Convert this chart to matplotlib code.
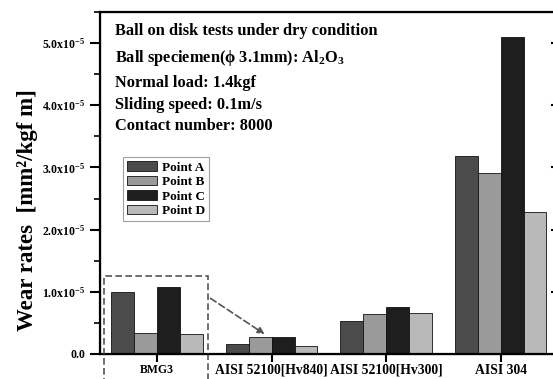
import numpy as np
import matplotlib
matplotlib.use("Agg")
import matplotlib.pyplot as plt
from matplotlib.ticker import MultipleLocator, FuncFormatter
from matplotlib.patches import Rectangle

plt.rcParams['font.family'] = ['Liberation Serif', 'DejaVu Serif']
plt.rcParams['font.weight'] = 'bold'
plt.rcParams['mathtext.fontset'] = 'custom'
plt.rcParams['mathtext.rm'] = 'Liberation Serif:bold'
plt.rcParams['mathtext.it'] = 'Liberation Serif:bold'
plt.rcParams['mathtext.bf'] = 'Liberation Serif:bold'

# data (wear rate, mm^2/kgf m)
materials = ["BMG3", "AISI 52100[Hv840]", "AISI 52100[Hv300]", "AISI 304"]
point_names = ["Point A", "Point B", "Point C", "Point D"]
point_a = [1.00e-5, 0.16e-5, 0.53e-5, 3.19e-5]
point_b = [0.33e-5, 0.27e-5, 0.64e-5, 2.91e-5]
point_c = [1.08e-5, 0.27e-5, 0.75e-5, 5.10e-5]
point_d = [0.32e-5, 0.13e-5, 0.665e-5, 2.28e-5]
colors = ["#4b4b4b", "#9a9a9a", "#1e1e1e", "#b9b9b9"]

fig = plt.figure(figsize=(5.53, 3.79), dpi=100)
ax = fig.add_axes([0.1808, 0.066, 0.828, 0.9024])

x = np.arange(len(materials))
w = 0.2
series = [point_a, point_b, point_c, point_d]
for i, (vals, name, col) in enumerate(zip(series, point_names, colors)):
    ax.bar(x + (i - 1.5) * w, vals, w, color=col, edgecolor="#111111",
           linewidth=0.6, label=name)

ax.set_xlim(-0.5, 3.5)
ax.set_ylim(0, 5.5e-5)
ax.set_xticks(x)
ax.set_xticklabels(materials, fontsize=9.8, fontweight='bold')
ax.get_xticklabels()[0].set_fontsize(8.5)
ax.yaxis.set_major_locator(MultipleLocator(1e-5))
ax.yaxis.set_minor_locator(MultipleLocator(0.5e-5))


def fmt(v, pos):
    if abs(v) < 1e-12:
        return "0.0"
    return r"%.1fx10$^{-5}$" % (v / 1e-5)


ax.yaxis.set_major_formatter(FuncFormatter(fmt))
ax.tick_params(axis='y', which='major', length=7, width=1.5, labelsize=8.5)
ax.tick_params(axis='y', which='minor', length=4, width=1.2)
ax.tick_params(axis='x', which='major', length=6, width=1.5, pad=1)
for s in ax.spines.values():
    s.set_linewidth(1.6)

ax2 = ax.twinx()
ax2.set_ylim(ax.get_ylim())
ax2.yaxis.set_major_locator(MultipleLocator(1e-5))
ax2.yaxis.set_minor_locator(MultipleLocator(0.5e-5))
ax2.tick_params(axis='y', which='both', direction='in', labelright=False)
ax2.tick_params(axis='y', which='major', length=5, width=1.5)
ax2.tick_params(axis='y', which='minor', length=3, width=1.2)

ax.set_ylabel("Wear rates  [mm²/kgf m]", fontsize=16.5, fontweight='bold')
ax.yaxis.set_label_coords(-0.135, 0.42)

notes = ["Ball on disk tests under dry condition",
         r"Ball speciemen(ϕ 3.1mm): Al$_2$O$_3$",
         "Normal load: 1.4kgf",
         "Sliding speed: 0.1m/s",
         "Contact number: 8000"]
note_y = [0.943, 0.866, 0.792, 0.728, 0.666]
for t, yy in zip(notes, note_y):
    ax.text(0.033, yy, t, transform=ax.transAxes, fontsize=11.8,
            fontweight='bold', va='center', ha='left')

leg = ax.legend(loc='upper left', bbox_to_anchor=(0.05, 0.575), fontsize=9.5,
                frameon=True, fancybox=False, edgecolor="#888888",
                handlelength=2.3, handleheight=0.75, labelspacing=0.15,
                borderpad=0.3, handletextpad=0.35, borderaxespad=0)
leg.get_frame().set_linewidth(0.8)

# dashed box around BMG3 and arrow
box = Rectangle((-0.463, -0.6e-5), 0.908, 1.86e-5, fill=False,
                linestyle=(0, (4, 2)), edgecolor="#555555", linewidth=1.2,
                clip_on=False, zorder=5)
ax.add_patch(box)
ax.annotate("", xy=(0.958, 0.295e-5), xytext=(0.445, 0.92e-5),
            arrowprops=dict(arrowstyle="-|>", linestyle=(0, (4, 2)),
                            color="#555555", lw=1.2, mutation_scale=10),
            annotation_clip=False)

fig.savefig("out.png", dpi=100)
